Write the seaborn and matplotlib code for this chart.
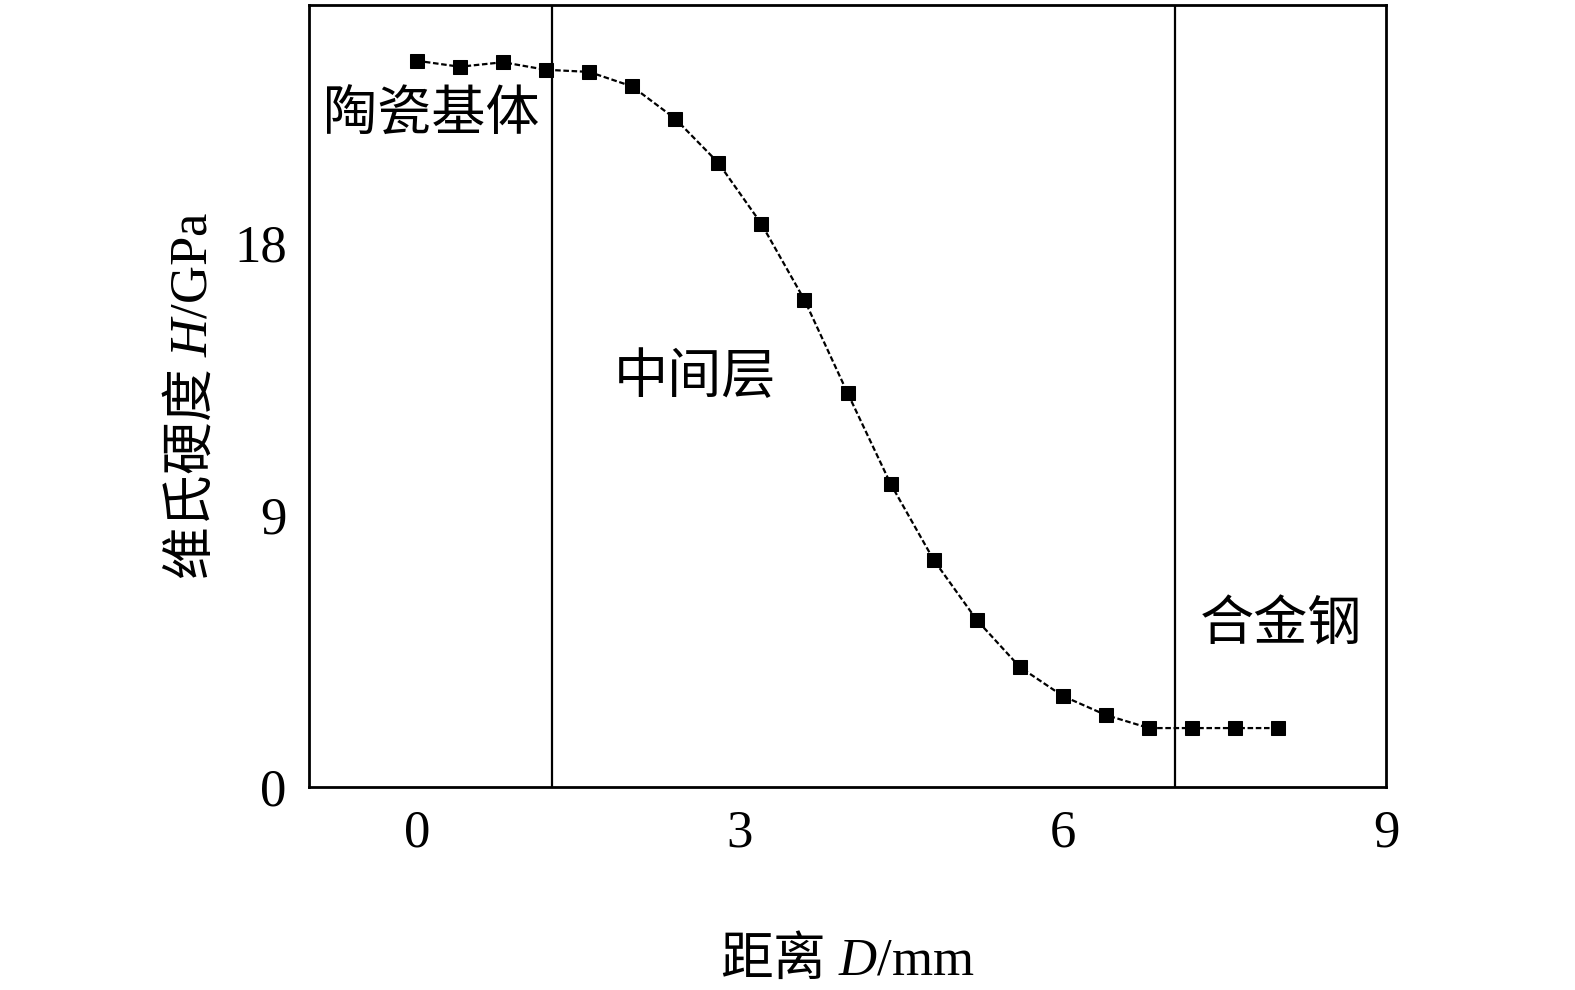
import matplotlib
matplotlib.use("Agg")
import matplotlib.pyplot as plt
import seaborn as sns

# data
distance = [0, 0.4, 0.8, 1.2, 1.6, 2.0, 2.4, 2.8, 3.2, 3.6, 4.0,
            4.4, 4.8, 5.2, 5.6, 6.0, 6.4, 6.8, 7.2, 7.6, 8.0]
hardness = [24.05, 23.85, 24.0, 23.75, 23.68, 23.2, 22.13, 20.67, 18.65, 16.13, 13.05,
            10.04, 7.52, 5.53, 3.97, 3.01, 2.38, 1.95, 1.95, 1.95, 1.95]
boundaries = [1.26, 7.04]
region_labels = ["陶瓷基体", "中间层", "合金钢"]
region_pos = [(-0.87, 22.15), (1.83, 13.5), (7.27, 5.3)]
x_ticks = [0, 3, 6, 9]
y_ticks = [0, 9, 18]

sns.set_style("white")
fonts = ["Liberation Serif", "Noto Sans CJK SC"]
plt.rcParams["font.family"] = fonts
plt.rcParams["text.color"] = "black"
plt.rcParams["axes.labelcolor"] = "black"
plt.rcParams["xtick.color"] = "black"
plt.rcParams["ytick.color"] = "black"
plt.rcParams["mathtext.fontset"] = "custom"
plt.rcParams["mathtext.it"] = "Liberation Serif:italic"
# chinese inside mathtext goes through \mathrm
plt.rcParams["mathtext.rm"] = "Noto Sans CJK SC"

fig = plt.figure(figsize=(15.75, 9.9), dpi=100)
ax = fig.add_axes([0.1962, 0.2051, 0.6838, 0.79])

sns.lineplot(x=distance, y=hardness, ax=ax, color="black", marker="s",
             markersize=10, markeredgecolor="black", linewidth=1.6,
             linestyle=(0, (2.5, 1.2)))

for b in boundaries:
    ax.axvline(b, color="black", linewidth=1.6)

for lab, (x, y) in zip(region_labels, region_pos):
    ax.text(x, y, lab, ha="left", va="center", fontsize=39, family=fonts, color="black")

ax.set_xlim(-1, 9)
ax.set_ylim(0, 25.9)
ax.set_xticks(x_ticks)
ax.set_yticks(y_ticks)
ax.tick_params(direction="in", length=12, width=2, labelsize=38, pad=16)
for s in ax.spines.values():
    s.set_linewidth(2)
    s.set_color("black")

ax.set_xlabel("$\\mathrm{距离}\\ \\mathit{D}$/mm", fontsize=38, labelpad=55)
ax.set_ylabel("$\\mathrm{维氏硬度}\\ \\mathit{H}$/GPa", fontsize=38, labelpad=12)

fig.savefig("out.png", dpi=100)
